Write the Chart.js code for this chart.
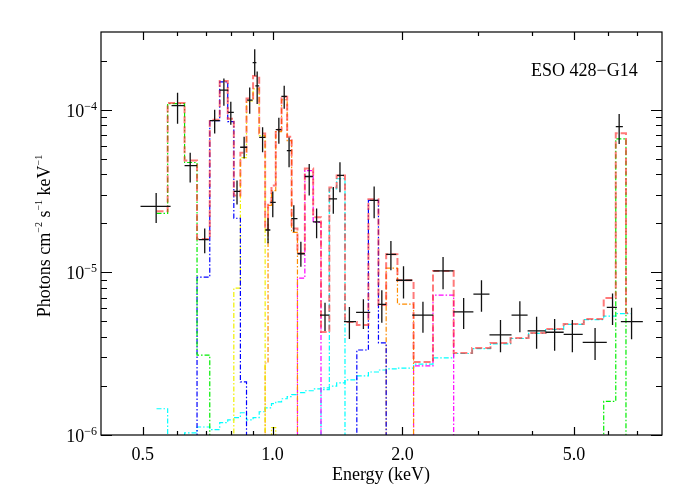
<!DOCTYPE html>
<html>
<head>
<meta charset="utf-8">
<title>ESO 428-G14</title>
<script src="https://cdn.jsdelivr.net/npm/chart.js@4.4.0/dist/chart.umd.min.js"></script>
<style>
  html, body { margin: 0; padding: 0; background: #fff; }
  #box { width: 692px; height: 500px; }
</style>
</head>
<body>
<div id="box"><canvas id="myChart" width="692" height="500"></canvas></div>
<script>
// data points: bin centre and edges (keV), flux and its error range
const energy = [0.537, 0.602, 0.644, 0.696, 0.734, 0.771, 0.800, 0.827, 0.859, 0.885, 0.909, 0.921, 0.948, 0.976, 1.001, 1.034, 1.064, 1.092, 1.120, 1.163, 1.216, 1.265, 1.323, 1.383, 1.433, 1.507, 1.624, 1.720, 1.792, 1.881, 2.012, 2.232, 2.485, 2.774, 3.051, 3.377, 3.745, 4.095, 4.509, 4.957, 5.596, 6.143, 6.364, 6.800];
const energyLow = [0.494, 0.583, 0.625, 0.674, 0.715, 0.754, 0.789, 0.813, 0.841, 0.873, 0.899, 0.912, 0.931, 0.962, 0.988, 1.017, 1.048, 1.079, 1.105, 1.142, 1.188, 1.240, 1.288, 1.351, 1.411, 1.464, 1.562, 1.684, 1.757, 1.834, 1.935, 2.108, 2.359, 2.626, 2.922, 3.184, 3.582, 3.903, 4.297, 4.732, 5.238, 5.957, 6.250, 6.422];
const energyHigh = [0.580, 0.625, 0.668, 0.711, 0.754, 0.789, 0.813, 0.841, 0.873, 0.899, 0.917, 0.931, 0.962, 0.988, 1.017, 1.048, 1.079, 1.105, 1.142, 1.188, 1.240, 1.288, 1.351, 1.411, 1.464, 1.562, 1.684, 1.757, 1.834, 1.935, 2.108, 2.359, 2.626, 2.922, 3.184, 3.582, 3.903, 4.297, 4.732, 5.238, 5.957, 6.287, 6.491, 7.222];
const flux = [25.4e-6, 105.7e-6, 45.3e-6, 15.9e-6, 85.5e-6, 131.9e-6, 96.1e-6, 31.4e-6, 58.7e-6, 114.5e-6, 194.6e-6, 140.1e-6, 67.5e-6, 18.2e-6, 26.9e-6, 75.3e-6, 120.5e-6, 56.0e-6, 21.4e-6, 13.0e-6, 38.8e-6, 20.4e-6, 5.46e-6, 28.3e-6, 39.4e-6, 4.97e-6, 5.67e-6, 27.7e-6, 6.35e-6, 12.9e-6, 8.94e-6, 5.46e-6, 10.2e-6, 5.72e-6, 7.34e-6, 4.12e-6, 5.46e-6, 4.37e-6, 4.28e-6, 4.16e-6, 3.71e-6, 6.08e-6, 78.6e-6, 4.97e-6];
const fluxHigh = [30.7e-6, 127.0e-6, 54.4e-6, 18.6e-6, 99.9e-6, 155.3e-6, 111.8e-6, 36.7e-6, 68.2e-6, 136.8e-6, 235.1e-6, 171.5e-6, 77.8e-6, 21.5e-6, 31.4e-6, 89.2e-6, 140.1e-6, 67.5e-6, 25.8e-6, 15.4e-6, 46.4e-6, 24.7e-6, 6.49e-6, 33.4e-6, 47.5e-6, 6.11e-6, 6.84e-6, 33.7e-6, 7.77e-6, 15.6e-6, 10.9e-6, 6.59e-6, 12.4e-6, 6.94e-6, 8.94e-6, 5.09e-6, 6.65e-6, 5.33e-6, 5.16e-6, 5.09e-6, 4.54e-6, 7.42e-6, 94.0e-6, 6.05e-6];
const fluxLow = [20.1e-6, 81.9e-6, 35.7e-6, 13.1e-6, 71.2e-6, 105.7e-6, 80.8e-6, 26.1e-6, 50.0e-6, 94.4e-6, 161.3e-6, 108.2e-6, 54.7e-6, 15.1e-6, 21.8e-6, 61.8e-6, 101.3e-6, 44.2e-6, 17.7e-6, 10.8e-6, 29.7e-6, 16.2e-6, 4.36e-6, 22.9e-6, 31.1e-6, 3.89e-6, 4.48e-6, 21.5e-6, 4.90e-6, 10.3e-6, 6.91e-6, 4.25e-6, 7.88e-6, 4.48e-6, 5.72e-6, 3.23e-6, 4.28e-6, 3.39e-6, 3.30e-6, 3.23e-6, 2.89e-6, 4.74e-6, 61.5e-6, 3.88e-6];

// model histogram: bin edges (keV) and one value per bin, 0 = below the plot
const modelEdges = [0.538, 0.571, 0.625, 0.668, 0.715, 0.754, 0.787, 0.813, 0.842, 0.870, 0.901, 0.931, 0.961, 0.976, 0.994, 1.017, 1.049, 1.081, 1.107, 1.142, 1.188, 1.242, 1.295, 1.354, 1.408, 1.472, 1.568, 1.668, 1.760, 1.834, 1.948, 2.123, 2.355, 2.630, 2.902, 3.201, 3.563, 3.924, 4.297, 4.732, 5.27, 5.86, 6.25, 6.60, 6.77];
const modelTotal = [2.37e-5, 1.10e-4, 4.86e-5, 1.60e-5, 8.67e-5, 1.50e-4, 8.80e-5, 2.97e-5, 5.44e-5, 1.17e-4, 1.61e-4, 7.12e-5, 1.84e-5, 2.69e-5, 3.42e-5, 7.53e-5, 1.20e-4, 6.82e-5, 1.86e-5, 1.31e-5, 4.34e-5, 2.18e-5, 4.30e-6, 3.32e-5, 3.94e-5, 4.95e-6, 4.74e-6, 2.81e-5, 6.29e-6, 1.29e-5, 8.94e-6, 2.81e-6, 1.02e-5, 3.19e-6, 3.43e-6, 3.68e-6, 3.95e-6, 4.24e-6, 4.48e-6, 4.81e-6, 5.16e-6, 6.94e-6, 7.15e-5, 5.62e-6];
const modelGreen = [2.30e-5, 1.09e-4, 4.73e-5, 3.10e-6, 0, 0, 0, 0, 0, 0, 0, 0, 0, 0, 0, 0, 0, 0, 0, 0, 0, 0, 0, 0, 0, 0, 0, 0, 0, 0, 0, 0, 0, 0, 0, 0, 0, 0, 0, 0, 0, 1.61e-6, 6.61e-5, 0];
const modelBlue = [0, 0, 0, 9.33e-6, 8.55e-5, 1.48e-4, 8.43e-5, 2.15e-5, 2.12e-6, 0, 0, 0, 0, 0, 0, 0, 0, 0, 0, 0, 0, 0, 0, 0, 0, 0, 3.33e-6, 2.77e-5, 3.68e-6, 0, 0, 0, 0, 0, 0, 0, 0, 0, 0, 0, 0, 0, 0, 0];
const modelYellow = [0, 0, 0, 0, 0, 0, 0, 7.99e-6, 5.07e-5, 1.13e-4, 1.34e-4, 6.92e-5, 0, 0, 1.11e-6, 0, 0, 0, 0, 0, 0, 0, 0, 0, 0, 0, 0, 0, 0, 0, 0, 0, 0, 0, 0, 0, 0, 0, 0, 0, 0, 0, 0, 0];
const modelOrange = [0, 0, 0, 0, 0, 0, 0, 0, 0, 0, 0, 0, 2.77e-6, 2.58e-5, 3.18e-5, 7.32e-5, 1.15e-4, 6.45e-5, 1.76e-5, 0, 0, 0, 0, 0, 0, 0, 0, 0, 0, 1.06e-5, 6.38e-6, 0, 0, 0, 0, 0, 0, 0, 0, 0, 0, 0, 0, 0];
const modelMagenta = [0, 0, 0, 0, 0, 0, 0, 0, 0, 0, 0, 0, 0, 0, 0, 0, 0, 0, 0, 9.2e-6, 4.22e-5, 2.03e-5, 0, 0, 0, 0, 0, 0, 0, 0, 0, 2.66e-6, 7.24e-6, 0, 0, 0, 0, 0, 0, 0, 0, 0, 0, 0];
const modelCyanLine = [0, 0, 0, 0, 0, 0, 0, 0, 0, 0, 0, 0, 0, 0, 0, 0, 0, 0, 0, 0, 0, 0, 1.90e-6, 3.26e-5, 3.76e-5, 0, 0, 0, 0, 0, 0, 0, 0, 0, 0, 0, 0, 0, 0, 0, 0, 0, 0, 0];
const modelCyan = [1.45e-6, 0, 1.03e-6, 1.12e-6, 1.08e-6, 1.19e-6, 1.24e-6, 1.28e-6, 1.37e-6, 1.24e-6, 1.28e-6, 1.39e-6, 1.47e-6, 1.47e-6, 1.56e-6, 1.60e-6, 1.67e-6, 1.72e-6, 1.77e-6, 1.82e-6, 1.87e-6, 1.92e-6, 1.95e-6, 2.00e-6, 2.09e-6, 2.18e-6, 2.31e-6, 2.44e-6, 2.51e-6, 2.55e-6, 2.58e-6, 2.73e-6, 2.98e-6, 3.17e-6, 3.40e-6, 3.63e-6, 3.92e-6, 4.21e-6, 4.45e-6, 4.78e-6, 5.12e-6, 5.38e-6, 5.58e-6, 5.58e-6];

// axes
const xMajorTicks = [0.5, 1.0, 2.0, 5.0];
const xMajorLabels = ['0.5', '1.0', '2.0', '5.0'];
const xMinorTicks = [0.6, 0.7, 0.8, 0.9, 3, 4, 6, 7];
const yMajorTicks = [1e-6, 1e-5, 1e-4];
const yMajorExps = ['\u22126', '\u22125', '\u22124'];

const FUNDO = 1e-9;
const fonte = '"Liberation Serif", "Times New Roman", serif';

function degraus(valores) {
    var pts = [];
    for (var i = 0; i < valores.length; i++) {
        pts.push({ x: modelEdges[i], y: valores[i] > 0 ? valores[i] : FUNDO });
    }
    var ultimo = valores[valores.length - 1];
    pts.push({ x: modelEdges[valores.length], y: ultimo > 0 ? ultimo : FUNDO });
    return pts;
}

function serie(valores, cor, largura, traco) {
    return {
        data: degraus(valores),
        borderColor: cor,
        borderWidth: largura,
        borderDash: traco,
        stepped: 'before',
        pointRadius: 0,
        fill: false
    };
}

const tracoPonto = [5, 2, 1.5, 2];

const cruzes = {
    id: 'cruzes',
    afterDatasetsDraw(chart) {
        const ctx = chart.ctx;
        const x = chart.scales.x;
        const y = chart.scales.y;
        ctx.save();
        ctx.strokeStyle = '#111';
        ctx.lineWidth = 1.3;
        ctx.beginPath();
        for (let i = 0; i < energy.length; i++) {
            const px = x.getPixelForValue(energy[i]);
            const py = y.getPixelForValue(flux[i]);
            ctx.moveTo(x.getPixelForValue(energyLow[i]), py);
            ctx.lineTo(x.getPixelForValue(energyHigh[i]), py);
            ctx.moveTo(px, y.getPixelForValue(fluxHigh[i]));
            ctx.lineTo(px, y.getPixelForValue(fluxLow[i]));
        }
        ctx.stroke();
        ctx.restore();
    }
};

const eixos = {
    id: 'eixos',
    afterDraw(chart) {
        const ctx = chart.ctx;
        const a = chart.chartArea;
        const x = chart.scales.x;
        const y = chart.scales.y;
        ctx.save();
        ctx.strokeStyle = '#000';
        ctx.lineWidth = 1.2;
        ctx.strokeRect(a.left, a.top, a.right - a.left, a.bottom - a.top);

        ctx.beginPath();
        xMajorTicks.forEach(function (v) {
            const px = Math.round(x.getPixelForValue(v)) + 0.5;
            ctx.moveTo(px, a.bottom); ctx.lineTo(px, a.bottom - 8);
            ctx.moveTo(px, a.top); ctx.lineTo(px, a.top + 8);
        });
        xMinorTicks.forEach(function (v) {
            const px = Math.round(x.getPixelForValue(v)) + 0.5;
            ctx.moveTo(px, a.bottom); ctx.lineTo(px, a.bottom - 4);
            ctx.moveTo(px, a.top); ctx.lineTo(px, a.top + 4);
        });
        yMajorTicks.forEach(function (v) {
            const py = Math.round(y.getPixelForValue(v)) + 0.5;
            ctx.moveTo(a.left, py); ctx.lineTo(a.left + 11, py);
            ctx.moveTo(a.right, py); ctx.lineTo(a.right - 11, py);
            for (let k = 2; k <= 9; k++) {
                if (v * k > y.max) break;
                const pm = Math.round(y.getPixelForValue(v * k)) + 0.5;
                ctx.moveTo(a.left, pm); ctx.lineTo(a.left + 6, pm);
                ctx.moveTo(a.right, pm); ctx.lineTo(a.right - 6, pm);
            }
        });
        ctx.stroke();

        ctx.fillStyle = '#000';
        ctx.font = '18px ' + fonte;
        ctx.textAlign = 'center';
        ctx.textBaseline = 'alphabetic';
        xMajorTicks.forEach(function (v, i) {
            ctx.fillText(xMajorLabels[i], x.getPixelForValue(v), a.bottom + 25);
        });
        ctx.fillText('Energy (keV)', 381, 480);

        yMajorTicks.forEach(function (v, i) {
            const py = y.getPixelForValue(v);
            ctx.textAlign = 'right';
            ctx.font = '12px ' + fonte;
            const w = ctx.measureText(yMajorExps[i]).width;
            ctx.fillText(yMajorExps[i], 97, py);
            ctx.font = '18px ' + fonte;
            ctx.fillText('10', 97 - w, py + 7);
        });

        // title inside the plot
        ctx.textAlign = 'left';
        ctx.font = '18px ' + fonte;
        ctx.fillText('ESO 428\u2212G14', 531, 76);

        // y axis title with superscripts
        const partes = [
            ['Photons cm', false], ['\u22122', true], [' s', false], ['\u22121', true], [' keV', false], ['\u22121', true]
        ];
        let total = 0;
        partes.forEach(function (p) {
            ctx.font = (p[1] ? '10px ' : '18px ') + fonte;
            total += ctx.measureText(p[0]).width;
        });
        ctx.translate(50, 236);
        ctx.rotate(-Math.PI / 2);
        let pos = -total / 2;
        partes.forEach(function (p) {
            ctx.font = (p[1] ? '10px ' : '18px ') + fonte;
            ctx.fillText(p[0], pos, p[1] ? -8 : 0);
            pos += ctx.measureText(p[0]).width;
        });
        ctx.restore();
    }
};

new Chart(document.getElementById('myChart'), {
    type: 'line',
    data: {
        datasets: [
            serie(modelTotal, 'rgba(255, 40, 40, 0.62)', 2, [7, 3]),
            serie(modelGreen, '#00ee00', 1.2, tracoPonto),
            serie(modelBlue, '#0000ff', 1.2, tracoPonto),
            serie(modelYellow, '#f0f000', 1.2, tracoPonto),
            serie(modelOrange, '#ff8c00', 1.2, tracoPonto),
            serie(modelMagenta, '#ff00ff', 1.2, tracoPonto),
            serie(modelCyanLine, '#00ffff', 1.2, tracoPonto),
            serie(modelCyan, '#00ffff', 1.2, tracoPonto)
        ]
    },
    options: {
        responsive: false,
        animation: false,
        layout: { padding: { left: 101, right: 30, top: 32, bottom: 65 } },
        plugins: { legend: { display: false }, tooltip: { enabled: false } },
        scales: {
            x: { type: 'logarithmic', min: 0.4, max: 8, display: false },
            y: { type: 'logarithmic', min: 1e-6, max: 3e-4, display: false }
        }
    },
    plugins: [cruzes, eixos]
});
</script>
</body>
</html>
